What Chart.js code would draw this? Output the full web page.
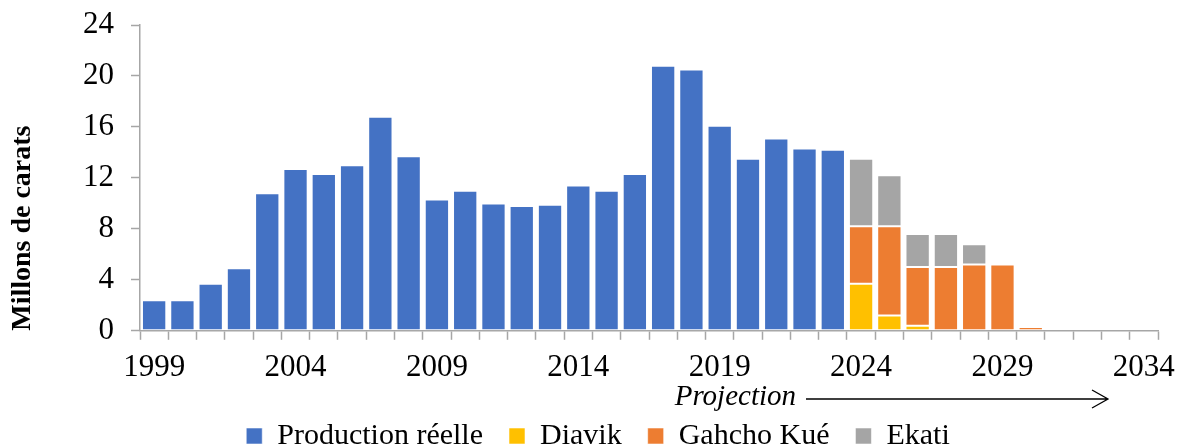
<!DOCTYPE html>
<html lang="fr">
<head>
<meta charset="utf-8">
<title>Production de diamants</title>
<script src="https://cdn.jsdelivr.net/npm/chart.js@4.4.1/dist/chart.umd.min.js"></script>
<style>
  html, body { margin: 0; padding: 0; background: #fff; overflow: hidden; }
  #wrap { position: relative; width: 1179px; height: 461px; }
</style>
</head>
<body>
<div id="wrap"><canvas id="chart"></canvas></div>
<script>
// Years on the horizontal axis
const years = [];
for (let y = 1999; y <= 2034; y++) years.push(String(y));

// Actual production, millions of carats (1999–2023)
const productionReelle = [2.4, 2.4, 3.7, 4.9, 10.8, 12.7, 12.3, 13.0, 16.8, 13.7,
  10.3, 11.0, 10.0, 9.8, 9.9, 11.4, 11.0, 12.3, 20.8, 20.5,
  16.1, 13.5, 15.1, 14.3, 14.2,
  null, null, null, null, null, null, null, null, null, null, null];

// Projected production by mine (2024–2034)
const pad25 = Array(25).fill(null);
const diavik    = pad25.concat([3.7, 1.2, 0.4, null, null, null, null, null, null, null, null]);
const gahchoKue = pad25.concat([4.5, 7.0, 4.6, 5.0, 5.2, 5.2, 0.3, null, null, null, null]);
const ekati     = pad25.concat([5.3, 4.0, 2.6, 2.6, 1.6, null, null, null, null, null, null]);

// Y axis ticks
const yMin = 0, yMax = 24, yStep = 4;

const AXIS_GREY = '#a6a6a6';
const FONT = "'Liberation Serif', 'Times New Roman', serif";
Chart.defaults.font.family = FONT;
Chart.defaults.color = '#000';

const edge = 'rgba(255,255,255,0.55)';

// "Projection" label with a long open arrow under the forecast years
const projectionArrow = {
  id: 'projectionArrow',
  afterDraw(chart) {
    const ctx = chart.ctx;
    const y = 399;
    const textRight = 796, lineStart = 806, lineEnd = 1108;
    ctx.save();
    ctx.fillStyle = '#000';
    ctx.font = "italic 29px " + FONT;
    ctx.textAlign = 'right';
    ctx.textBaseline = 'alphabetic';
    ctx.fillText('Projection', textRight, 405);
    ctx.strokeStyle = '#000';
    ctx.lineWidth = 1.3;
    ctx.beginPath();
    ctx.moveTo(lineStart, y);
    ctx.lineTo(lineEnd, y);
    ctx.moveTo(lineEnd - 16, y - 9);
    ctx.lineTo(lineEnd, y);
    ctx.lineTo(lineEnd - 16, y + 9);
    ctx.stroke();
    ctx.restore();
  }
};

// Nudge the legend row to the right so it sits under the plot
const legendShift = {
  id: 'legendShift',
  afterLayout(chart) {
    if (chart.legend) {
      chart.legend.left += 19;
      chart.legend.right += 19;
    }
  }
};

const common = {
  borderColor: edge,
  borderWidth: 1,
  borderSkipped: false,
  barPercentage: 0.86,
  categoryPercentage: 1.0,
  stack: 's'
};

new Chart(document.getElementById('chart'), {
  type: 'bar',
  data: {
    labels: years,
    datasets: [
      Object.assign({ label: 'Production réelle', data: productionReelle, backgroundColor: '#4472C4' }, common),
      Object.assign({ label: 'Diavik', data: diavik, backgroundColor: '#FFC000' }, common),
      Object.assign({ label: 'Gahcho Kué', data: gahchoKue, backgroundColor: '#ED7D31' }, common),
      Object.assign({ label: 'Ekati', data: ekati, backgroundColor: '#A5A5A5' }, common)
    ]
  },
  options: {
    responsive: true,
    maintainAspectRatio: false,
    animation: false,
    layout: { padding: { top: 25, right: 21, bottom: 0, left: 0 } },
    scales: {
      x: {
        stacked: true,
        offset: true,
        afterFit: function (scale) { scale.paddingLeft = 0; scale.paddingRight = 0; },
        grid: {
          offset: true,
          drawOnChartArea: false,
          drawTicks: true,
          tickLength: 9,
          tickColor: AXIS_GREY,
          tickWidth: 1.5
        },
        border: { color: AXIS_GREY, width: 1.5 },
        ticks: {
          autoSkip: false,
          maxRotation: 0,
          padding: 9,
          color: '#000',
          font: { size: 31 },
          callback: function (v, i) { return i % 5 === 0 ? years[i] : ''; }
        }
      },
      y: {
        stacked: true,
        min: yMin,
        max: yMax,
        afterFit: function (scale) {
          scale.width = 140;
          scale.paddingTop = 10;
          scale.paddingBottom = 10;
        },
        grid: {
          drawOnChartArea: false,
          drawTicks: true,
          tickLength: 9,
          tickColor: AXIS_GREY,
          tickWidth: 1.5
        },
        border: { color: AXIS_GREY, width: 1.5 },
        ticks: {
          stepSize: yStep,
          padding: 17,
          color: '#000',
          font: { size: 31 }
        },
        title: {
          display: true,
          text: 'Millons de carats',
          align: 'start',
          color: '#000',
          font: { size: 28, weight: 'bold' },
          padding: { top: 6, bottom: 0 }
        }
      }
    },
    plugins: {
      legend: {
        position: 'bottom',
        labels: {
          boxWidth: 16,
          boxHeight: 16,
          padding: 26,
          color: '#000',
          font: { size: 30 }
        }
      },
      tooltip: { enabled: false }
    }
  },
  plugins: [projectionArrow, legendShift]
});
</script>
</body>
</html>
